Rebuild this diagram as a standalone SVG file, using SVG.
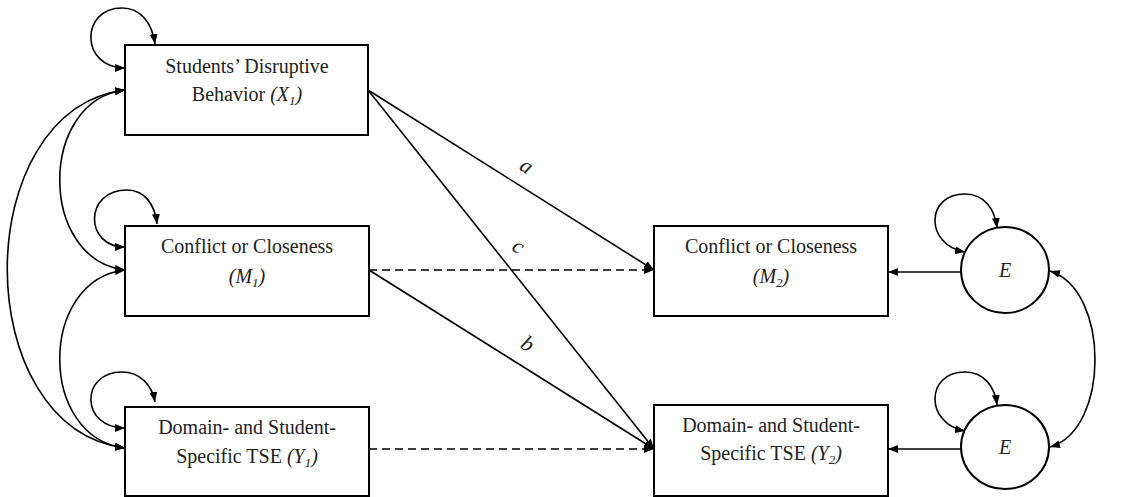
<svg xmlns="http://www.w3.org/2000/svg" width="1123" height="497" viewBox="0 0 1123 497">
  <defs>
    <marker id="ah" viewBox="0 0 10 8" refX="10" refY="4" markerWidth="10" markerHeight="8" markerUnits="userSpaceOnUse" orient="auto-start-reverse">
      <path d="M0,0 L10,4 L0,8 z" fill="#000"/>
    </marker>
  </defs>
  <style>
    .box { fill: #fff; stroke: #000; stroke-width: 2; }
    .circ { fill: #fff; stroke: #000; stroke-width: 2; }
    .lbl { font-size: 20px; fill: #222; text-anchor: middle; }
    .it { font-style: italic; }
    .sub { font-size: 13px; font-style: italic; }
    .conn { fill: none; stroke: #000; stroke-width: 1.6; }
    .arr { marker-end: url(#ah); }
    .dbl { marker-start: url(#ah); marker-end: url(#ah); }
    .dash { stroke-dasharray: 8 5; }
    .plbl { font-size: 22px; font-style: italic; fill: #222; text-anchor: middle; }
  </style>

  <g id="connectors" font-family="Liberation Serif, Times New Roman, serif">
    <path class="conn dbl" d="M125,68 C80,68 80,8 122,8 C140,8 152,22 155,44"/>
    <path class="conn dbl" d="M125,247 C84,247 84,190 127,190 C145,190 155,205 157,224"/>
    <path class="conn dbl" d="M125,428 C80,428 80,372 122,372 C140,372 152,385 155,402"/>
    <path class="conn dbl" d="M965,252 C925,245 925,194 965,194 C985,194 995,210 997,228"/>
    <path class="conn dbl" d="M965,431 C925,424 925,372 965,372 C985,372 995,388 997,405"/>
    <path class="conn dbl" d="M125,90 C38,100 38,260 125,270"/>
    <path class="conn dbl" d="M125,270 C38,280 38,438 125,448"/>
    <path class="conn dbl" d="M125,90 C-32,110 -32,428 125,448"/>
    <path class="conn dbl" d="M1050,271 C1110,290 1110,430 1050,447"/>
    <line class="conn arr" x1="368" y1="90" x2="654" y2="270"/>
    <line class="conn arr" x1="368" y1="90" x2="654" y2="449"/>
    <line class="conn arr" x1="369" y1="270" x2="654" y2="449"/>
    <line class="conn arr dash" x1="369" y1="270" x2="654" y2="270"/>
    <line class="conn arr dash" x1="369" y1="449" x2="654" y2="449"/>
    <line class="conn arr" x1="961" y1="272" x2="888" y2="272"/>
    <line class="conn arr" x1="961" y1="449" x2="888" y2="449"/>
    <text class="plbl" transform="translate(523,172) rotate(32)">a</text>
    <text class="plbl" transform="translate(515,252) rotate(32)">c</text>
    <text class="plbl" transform="translate(524,350) rotate(32)">b</text>
  </g>

  <g id="nodes" font-family="Liberation Serif, Times New Roman, serif">
  <g id="X1">
    <rect class="box" x="125" y="45" width="243" height="90"/>
    <text class="lbl" x="247" y="73">Students’ Disruptive</text>
    <text class="lbl" x="247" y="101">Behavior <tspan class="it">(X</tspan><tspan class="sub" dy="4">1</tspan><tspan class="it" dy="-4">)</tspan></text>
  </g>

  <g id="M1">
    <rect class="box" x="125" y="226" width="244" height="90"/>
    <text class="lbl" x="247" y="253">Conflict or Closeness</text>
    <text class="lbl" x="247" y="283"><tspan class="it">(M</tspan><tspan class="sub" dy="4">1</tspan><tspan class="it" dy="-4">)</tspan></text>
  </g>

  <g id="Y1">
    <rect class="box" x="125" y="407" width="244" height="89"/>
    <text class="lbl" x="247" y="434">Domain- and Student-</text>
    <text class="lbl" x="247" y="463">Specific TSE <tspan class="it">(Y</tspan><tspan class="sub" dy="4">1</tspan><tspan class="it" dy="-4">)</tspan></text>
  </g>

  <g id="M2">
    <rect class="box" x="654" y="226" width="234" height="90"/>
    <text class="lbl" x="771" y="253">Conflict or Closeness</text>
    <text class="lbl" x="771" y="283"><tspan class="it">(M</tspan><tspan class="sub" dy="4">2</tspan><tspan class="it" dy="-4">)</tspan></text>
  </g>

  <g id="Y2">
    <rect class="box" x="654" y="405" width="234" height="91"/>
    <text class="lbl" x="771" y="432">Domain- and Student-</text>
    <text class="lbl" x="771" y="460">Specific TSE <tspan class="it">(Y</tspan><tspan class="sub" dy="4">2</tspan><tspan class="it" dy="-4">)</tspan></text>
  </g>

  <g id="E1">
    <ellipse class="circ" cx="1005" cy="270" rx="44" ry="43"/>
    <text class="lbl it" x="1005" y="277">E</text>
  </g>

  <g id="E2">
    <ellipse class="circ" cx="1005" cy="447" rx="44" ry="42"/>
    <text class="lbl it" x="1005" y="454">E</text>
  </g>
  </g>
</svg>
